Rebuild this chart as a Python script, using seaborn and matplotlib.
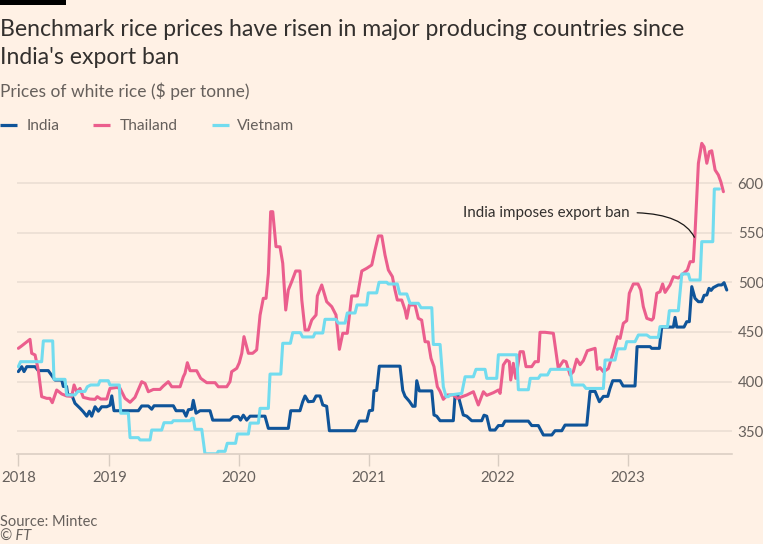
import matplotlib
matplotlib.use("Agg")
import matplotlib.pyplot as plt
from matplotlib.lines import Line2D
from matplotlib.patches import Rectangle
from matplotlib.text import Text
import pandas as pd
import seaborn as sns

# ---------------- data (decimal years, $ per tonne) ----------------
countries = ["India", "Thailand", "Vietnam"]
year_ticks = [2018, 2019, 2020, 2021, 2022, 2023]
price_ticks = [350, 400, 450, 500, 550, 600]

india_year = [2018.298, 2018.324, 2018.342, 2018.363, 2018.427, 2018.452, 2018.529, 2018.556, 2018.581, 2018.633,
              2018.645, 2018.670, 2018.679, 2018.710, 2018.735, 2018.774, 2018.799, 2018.826, 2018.846, 2018.864,
              2018.890, 2018.915, 2018.941, 2018.980, 2019.005, 2019.019, 2019.036, 2019.224, 2019.250, 2019.301,
              2019.327, 2019.345, 2019.494, 2019.515, 2019.571, 2019.592, 2019.610, 2019.636, 2019.648, 2019.669,
              2019.700, 2019.777, 2019.798, 2019.931, 2019.957, 2019.995, 2020.012, 2020.034, 2020.060, 2020.086,
              2020.201, 2020.227, 2020.381, 2020.400, 2020.471, 2020.492, 2020.510, 2020.536, 2020.574, 2020.595,
              2020.626, 2020.647, 2020.677, 2020.698, 2020.896, 2020.929, 2020.986, 2021.006, 2021.031, 2021.042,
              2021.063, 2021.083, 2021.243, 2021.264, 2021.282, 2021.315, 2021.341, 2021.359, 2021.372, 2021.392,
              2021.488, 2021.505, 2021.526, 2021.552, 2021.654, 2021.667, 2021.693, 2021.731, 2021.758, 2021.796,
              2021.873, 2021.891, 2021.912, 2021.937, 2021.976, 2022.002, 2022.034, 2022.053, 2022.233, 2022.259,
              2022.310, 2022.349, 2022.414, 2022.439, 2022.491, 2022.516, 2022.684, 2022.709, 2022.748, 2022.781,
              2022.812, 2022.846, 2022.863, 2022.884, 2022.941, 2022.964, 2023.056, 2023.072, 2023.172, 2023.185,
              2023.244, 2023.262, 2023.352, 2023.365, 2023.378, 2023.434, 2023.455, 2023.475, 2023.494, 2023.519,
              2023.545, 2023.571, 2023.589, 2023.610, 2023.627, 2023.643, 2023.660, 2023.699, 2023.725, 2023.743,
              2023.764]
india_price = [410, 415, 410, 415, 415, 411, 411, 406, 401.5, 401.5,
               395, 395, 386.5, 386.5, 378, 373, 369.5, 365, 370, 365,
               374.5, 370, 374.5, 374.5, 376, 385.5, 370.5, 370.5, 375.3, 375.3,
               372, 375.5, 375.5, 370.5, 370.5, 365, 371.5, 372, 381, 368,
               370.5, 370.5, 361, 361, 364.5, 364.5, 361, 366, 361, 365,
               365, 352.7, 352.7, 370.5, 370.5, 379.6, 385.4, 379.6, 380, 385.4,
               385.4, 376.3, 375, 350.3, 350.3, 360.1, 360.1, 370.5, 371, 390.7,
               391, 415.5, 415.5, 391, 385, 380, 375, 375, 400.8, 390.5,
               390.5, 366.2, 365, 360.4, 360.4, 385, 385, 366.2, 365, 360.4,
               360.4, 366, 365, 351, 351, 355.5, 355.5, 360, 360, 355.5,
               355.5, 346, 346, 350.3, 350.3, 356, 356, 390, 390, 379.6,
               385, 385, 393, 400.8, 400.8, 395.5, 395.5, 435.2, 435.2, 433.5,
               433.5, 455, 455, 464.8, 455, 455, 460.4, 460.4, 495.8, 484,
               480.6, 480.6, 487, 487.4, 494.1, 492, 494.8, 497.5, 497.5, 499.8,
               492.4]

thailand_year = [2018.298, 2018.324, 2018.349, 2018.388, 2018.401, 2018.427, 2018.452, 2018.478, 2018.517, 2018.542,
                 2018.560, 2018.594, 2018.633, 2018.671, 2018.710, 2018.728, 2018.748, 2018.774, 2018.799, 2018.851,
                 2018.890, 2018.907, 2018.934, 2018.980, 2019.005, 2019.057, 2019.083, 2019.121, 2019.160, 2019.198,
                 2019.250, 2019.276, 2019.301, 2019.340, 2019.391, 2019.417, 2019.455, 2019.482, 2019.546, 2019.571,
                 2019.584, 2019.602, 2019.623, 2019.674, 2019.705, 2019.752, 2019.816, 2019.841, 2019.906, 2019.931,
                 2019.944, 2019.983, 2020.003, 2020.022, 2020.039, 2020.073, 2020.106, 2020.137, 2020.163, 2020.188,
                 2020.209, 2020.227, 2020.245, 2020.261, 2020.286, 2020.317, 2020.338, 2020.361, 2020.381, 2020.407,
                 2020.438, 2020.471, 2020.485, 2020.510, 2020.536, 2020.562, 2020.595, 2020.605, 2020.639, 2020.677,
                 2020.716, 2020.749, 2020.775, 2020.801, 2020.836, 2020.870, 2020.914, 2020.948, 2020.986, 2021.025,
                 2021.050, 2021.076, 2021.102, 2021.127, 2021.153, 2021.184, 2021.204, 2021.222, 2021.256, 2021.282,
                 2021.295, 2021.315, 2021.359, 2021.384, 2021.410, 2021.436, 2021.461, 2021.482, 2021.505, 2021.531,
                 2021.552, 2021.577, 2021.608, 2021.654, 2021.685, 2021.719, 2021.758, 2021.809, 2021.847, 2021.886,
                 2021.912, 2021.963, 2022.002, 2022.015, 2022.040, 2022.066, 2022.086, 2022.097, 2022.117, 2022.136,
                 2022.169, 2022.194, 2022.215, 2022.259, 2022.285, 2022.310, 2022.323, 2022.362, 2022.426, 2022.464,
                 2022.503, 2022.524, 2022.555, 2022.580, 2022.606, 2022.632, 2022.657, 2022.688, 2022.748, 2022.765,
                 2022.786, 2022.812, 2022.850, 2022.889, 2022.920, 2022.941, 2022.966, 2022.992, 2023.012, 2023.043,
                 2023.079, 2023.100, 2023.120, 2023.147, 2023.185, 2023.198, 2023.224, 2023.249, 2023.269, 2023.288,
                 2023.326, 2023.352, 2023.390, 2023.417, 2023.460, 2023.481, 2023.506, 2023.519, 2023.545, 2023.571,
                 2023.589, 2023.610, 2023.630, 2023.648, 2023.674, 2023.699, 2023.718, 2023.738]
thailand_price = [433.5, 436, 438.6, 442.6, 428.5, 426.8, 411.6, 384.7, 383, 383,
                  378.6, 391.4, 387.4, 385.4, 385, 396.5, 389.7, 393, 384, 382.3,
                  382, 384.7, 382.3, 382.3, 393, 394, 393, 383, 379, 384,
                  399.8, 398, 389.7, 392, 392, 395.5, 399.8, 394.7, 394.7, 404.8,
                  408.3, 419, 410.9, 410.9, 403.2, 398.8, 398.8, 394.7, 394.7, 399.8,
                  409.9, 413.3, 419, 428.5, 445.3, 428.5, 428.5, 432, 467, 484,
                  484, 509, 571.5, 571.5, 536.2, 536, 519.4, 472.2, 492.4, 500.8,
                  511.6, 511.6, 482.3, 452, 452, 462.1, 467.2, 486.4, 497.5, 480.6,
                  475.6, 467.2, 432.5, 448.7, 448.7, 486.4, 486.4, 511.6, 514.3, 517.7,
                  532.8, 547, 547, 527.8, 512.6, 505.9, 492.4, 482.3, 482.3, 472.2,
                  463.8, 477.3, 477.3, 463.8, 462, 440.2, 440, 423.4, 415, 394.7,
                  390, 382, 386.4, 386.4, 383, 384.5, 386.4, 389.7, 376.3, 389.7,
                  386, 388.7, 391.4, 388, 416.7, 421.7, 420, 401.5, 418.4, 403.2,
                  430.1, 430.1, 415, 415, 420, 420, 449.7, 449.7, 448.7, 413.3,
                  421, 420, 406.6, 410, 422.6, 417, 421, 431.1, 433.5, 412.3,
                  414, 409.9, 413, 430.1, 445.3, 443.5, 458.8, 461.4, 489.1, 498.5,
                  498.5, 492.4, 475.6, 463.8, 462, 464, 489.1, 490.7, 498.5, 490,
                  497.5, 505.9, 504.5, 507.6, 512.6, 521, 521, 549.7, 620.4, 640.5,
                  637, 620.4, 632.1, 633, 613.6, 608.6, 601.8, 591.7]

vietnam_year = [2018.298, 2018.315, 2018.478, 2018.491, 2018.563, 2018.573, 2018.658, 2018.671, 2018.735, 2018.758,
                2018.812, 2018.830, 2018.856, 2018.915, 2018.928, 2018.992, 2019.005, 2019.077, 2019.088, 2019.147,
                2019.160, 2019.224, 2019.237, 2019.314, 2019.327, 2019.404, 2019.422, 2019.482, 2019.494, 2019.623,
                2019.636, 2019.648, 2019.661, 2019.713, 2019.738, 2019.829, 2019.841, 2019.893, 2019.910, 2019.974,
                2019.988, 2020.073, 2020.086, 2020.150, 2020.163, 2020.227, 2020.240, 2020.323, 2020.338, 2020.397,
                2020.415, 2020.474, 2020.491, 2020.574, 2020.587, 2020.647, 2020.664, 2020.747, 2020.767, 2020.819,
                2020.836, 2020.896, 2020.911, 2020.986, 2020.998, 2021.063, 2021.081, 2021.140, 2021.153, 2021.222,
                2021.241, 2021.295, 2021.320, 2021.384, 2021.405, 2021.488, 2021.500, 2021.552, 2021.577, 2021.598,
                2021.616, 2021.629, 2021.719, 2021.745, 2021.809, 2021.829, 2021.899, 2021.912, 2021.989, 2022.002,
                2022.143, 2022.156, 2022.233, 2022.248, 2022.310, 2022.327, 2022.381, 2022.404, 2022.555, 2022.572,
                2022.657, 2022.678, 2022.812, 2022.825, 2022.902, 2022.921, 2022.979, 2022.992, 2023.056, 2023.082,
                2023.147, 2023.172, 2023.236, 2023.249, 2023.307, 2023.321, 2023.390, 2023.417, 2023.468, 2023.481,
                2023.558, 2023.571, 2023.656, 2023.668, 2023.707]
vietnam_price = [415, 420, 420, 441, 441, 402.2, 402.2, 386.4, 386.4, 390,
                 390, 394.7, 396.5, 396.5, 400.8, 400.8, 396.5, 396.5, 368, 368,
                 343.3, 343.3, 341, 341, 351, 351, 358.4, 358.4, 360.4, 360.4,
                 362.8, 362.8, 351.7, 351.7, 327, 327, 329.5, 329.5, 337.6, 337.6,
                 347, 347, 358, 358, 372.9, 372.9, 407.5, 407.5, 438.6, 438.6,
                 449.3, 449.3, 445, 445, 449, 449, 462.8, 462.8, 459, 459,
                 469.2, 469.2, 477.3, 477.3, 489.5, 489.5, 500.2, 500.2, 498.5, 498.5,
                 488.4, 488.4, 479, 479, 474.5, 474.5, 437.4, 437.4, 394.7, 384.7,
                 384.7, 386.4, 388, 404.8, 404.8, 412.3, 412.3, 403.2, 403.2, 427,
                 427, 391.7, 391.7, 403.2, 403.2, 406.6, 406.6, 412.3, 412.3, 396.5,
                 396.5, 393, 393, 421.7, 421.7, 433, 433, 440.2, 440.2, 447,
                 447, 444.6, 444.6, 455.4, 455.4, 471.5, 471.5, 508.6, 508.6, 502.5,
                 502.5, 541.2, 541.2, 594.4, 594.4]

# ---------------- style ----------------
BG = "#FFF1E5"
TEXT = "#33302E"
GREY = "#66605C"
palette = {"India": "#0F5499", "Thailand": "#EB5E8D", "Vietnam": "#72DCEF"}

sns.set_theme(style="white")
plt.rcParams["font.family"] = ["Lato", "DejaVu Sans"]

W, H = 763, 544
fig = plt.figure(figsize=(W / 100, H / 100), dpi=100, facecolor=BG)


def fx(x):
    return x / W


def fy(y):
    return 1 - y / H


ax = fig.add_axes([fx(17.3), fy(453.5), fx(731.7) - fx(17.3), fy(139) - fy(453.5)])
ax.set_facecolor(BG)

frames = []
for name, yr, pr in [("India", india_year, india_price),
                     ("Thailand", thailand_year, thailand_price),
                     ("Vietnam", vietnam_year, vietnam_price)]:
    frames.append(pd.DataFrame({"year": yr, "price": pr, "country": name}))
df = pd.concat(frames, ignore_index=True)

sns.lineplot(data=df, x="year", y="price", hue="country", hue_order=countries,
             palette=palette, estimator=None, errorbar=None, sort=False,
             linewidth=2.2, legend=False, ax=ax)

ax.set_xlim(2018.290, 2023.802)
ax.set_ylim(327.3, 644.9)
ax.set_xlabel("")
ax.set_ylabel("")

# y axis on the right
ax.set_yticks(price_ticks)
ax.set_yticklabels([str(v) for v in price_ticks])
ax.yaxis.tick_right()
ax.tick_params(axis="y", length=0, pad=4.3, labelsize=10.8, labelcolor=GREY)
ax.grid(axis="y", color="#E9DDD2", linewidth=1.1)
ax.grid(axis="x", visible=False)
ax.set_axisbelow(True)

# x axis: first tick marks the start of the series
xt = [india_year[0]] + year_ticks[1:]
ax.set_xticks(xt)
ax.set_xticklabels([str(y) for y in year_ticks])
ax.tick_params(axis="x", length=8.5, width=1, color="#D8CCC1", pad=4,
               labelsize=10.8, labelcolor=GREY, bottom=True)

for s in ["top", "right", "left"]:
    ax.spines[s].set_visible(False)
ax.spines["bottom"].set_color("#D8CCC1")
ax.spines["bottom"].set_linewidth(1.1)

# annotation
ann = ax.annotate("India imposes export ban", xy=(2023.514, 545.7), xytext=(2023.015, 566.5),
                  ha="right", va="baseline", fontsize=10.5, color=TEXT,
                  arrowprops=dict(arrowstyle="-", color="#1A1817", lw=0.9,
                                  connectionstyle="angle3,angleA=0,angleB=-63",
                                  relpos=(1.0, 0.5), shrinkA=3, shrinkB=0))

# titles and texts
fig.patches.append(Rectangle((0, fy(5)), fx(66), 5 / H, transform=fig.transFigure,
                             facecolor="#000000", edgecolor="none"))
t1 = fig.text(0, fy(36), "Benchmark rice prices have risen in major producing countries since",
              fontsize=15.5, color=TEXT, va="baseline", ha="left")
t2 = fig.text(0, fy(64), "India's export ban", fontsize=15.5, color=TEXT, va="baseline", ha="left")
sub = fig.text(0, fy(96.7), "Prices of white rice ($ per tonne)", fontsize=11, color=GREY,
               va="baseline", ha="left")

leg_items = [("India", 0, 17, 27), ("Thailand", 92.7, 110, 119.3), ("Vietnam", 211.7, 229, 237.3)]
leg_texts = []
for name, x0, x1, xt_ in leg_items:
    fig.lines.append(Line2D([fx(x0), fx(x1)], [fy(125), fy(125)], transform=fig.transFigure,
                            color=palette[name], linewidth=2.3, solid_capstyle="butt"))
    leg_texts.append(fig.text(fx(xt_), fy(130), name, fontsize=10.8, color=GREY,
                              va="baseline", ha="left"))

src = fig.text(0, fy(526.5), "Source: Mintec", fontsize=10, color=GREY, va="baseline", ha="left")
cft = fig.text(0, fy(540.5), "\u00a9 FT", fontsize=10, color=GREY, va="baseline", ha="left",
               style="italic")

# fit text widths to the reference
fig.canvas.draw()
r = fig.canvas.get_renderer()


def fit(t, width):
    bb = Text.get_window_extent(t, renderer=r)
    t.set_fontsize(t.get_fontsize() * width / bb.width)


fit(t1, 684)
t2.set_fontsize(t1.get_fontsize())
fit(sub, 248)
fit(leg_texts[1], 58)
for t in leg_texts:
    t.set_fontsize(leg_texts[1].get_fontsize())
fit(src, 97)
cft.set_fontsize(src.get_fontsize())
fit(ann, 167.6)

fig.savefig("out.png", dpi=100, facecolor=BG)
